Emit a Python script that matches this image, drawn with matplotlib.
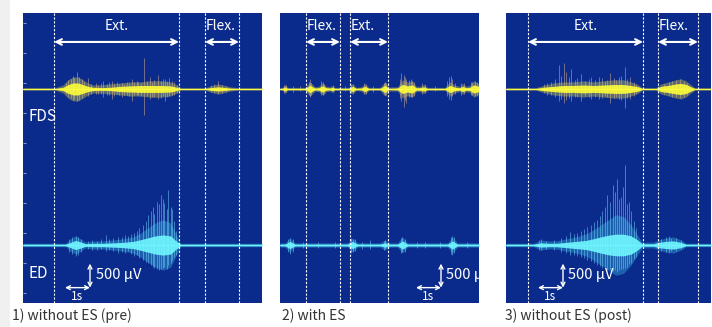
import matplotlib
matplotlib.use("Agg")
import matplotlib.pyplot as plt
from matplotlib.patches import Rectangle

plt.rcParams['font.family'] = ['Noto Sans CJK JP', 'DejaVu Sans']

# ---------------- data (time in s, amplitude in µV) ----------------
PANEL_TITLES = ["1) without ES (pre)", "2) with ES", "3) without ES (post)"]
PANEL_DURATION = [9.56, 7.96, 8.20]

PHASE_NAMES_1 = ["Ext.", "Flex."]
PHASE_START_1 = [1.24, 7.28]
PHASE_END_1 = [6.24, 8.64]
PHASE_NAMES_2 = ["Flex.", "Ext."]
PHASE_START_2 = [1.04, 2.80]
PHASE_END_2 = [2.40, 4.32]
PHASE_NAMES_3 = ["Ext.", "Flex."]
PHASE_START_3 = [0.88, 6.08]
PHASE_END_3 = [5.48, 7.68]

# FDS, panel 1
FDS1_T = [0, 1.3, 1.6, 1.8, 2.0, 2.2, 2.4, 2.6, 2.8, 3.1, 3.5, 3.9, 4.3, 4.7, 5.1, 5.5, 5.9, 6.15, 6.3,
          7.3, 7.5, 7.8, 8.0, 8.3, 8.6, 9.0, 9.56]
FDS1_CORE = [12, 12, 35, 90, 125, 125, 90, 55, 35, 28, 35, 55, 65, 72, 72, 72, 65, 35, 12,
             12, 28, 45, 35, 18, 12, 12, 12]
FDS1_HALO = [28, 28, 84, 190, 250, 250, 190, 125, 84, 84, 105, 125, 147, 147, 170, 170, 147, 84, 28,
             28, 63, 105, 84, 42, 28, 28, 28]
FDS1_SPIKE_T = [1.9, 2.15, 2.6, 2.9, 3.2, 3.55, 3.95, 4.35, 4.6, 4.84, 5.08, 5.4, 5.68, 5.85, 5.96, 7.8,
                1.7, 1.8, 2.0, 2.05, 2.25, 2.35, 2.45, 2.7, 3.0, 3.1, 3.35, 3.45, 3.65, 3.75, 3.85,
                4.05, 4.15, 4.25, 4.45, 4.55, 4.7, 4.95, 5.15, 5.25, 5.5, 5.6, 5.75, 6.05, 6.15,
                7.5, 7.65, 7.95, 8.1]
FDS1_SPIKE_UP = [200, 350, 230, 120, 170, 170, 130, 210, 150, 650, 250, 290, 210, 220, 170, 170,
                 120, 180, 260, 220, 250, 200, 150, 110, 90, 130, 110, 150, 120, 140, 100,
                 110, 150, 120, 140, 160, 130, 170, 150, 190, 160, 200, 170, 140, 90,
                 80, 100, 90, 60]
FDS1_SPIKE_DN = [180, 250, 150, 100, 170, 210, 170, 250, 120, 540, 210, 210, 250, 150, 130, 110,
                 110, 160, 230, 200, 220, 180, 130, 100, 110, 100, 130, 120, 140, 110, 120,
                 130, 120, 140, 120, 130, 150, 140, 160, 170, 180, 150, 160, 120, 80,
                 70, 90, 80, 60]

# ED, panel 1
ED1_T = [0, 1.7, 1.9, 2.1, 2.3, 2.5, 2.8, 3.2, 3.6, 4.0, 4.4, 4.7, 5.0, 5.3, 5.6, 5.9, 6.1, 6.3, 9.56]
ED1_CORE = [18, 18, 55, 95, 65, 28, 36, 36, 45, 55, 75, 110, 150, 190, 210, 190, 95, 18, 18]
ED1_HALO = [36, 36, 126, 190, 126, 63, 84, 84, 105, 126, 168, 250, 357, 462, 525, 462, 250, 36, 36]
ED1_SPIKE_T = [2.1, 3.3, 3.8, 4.2, 4.55, 4.8, 5.0, 5.2, 5.35, 5.5, 5.65, 5.8, 5.95, 6.05,
               1.85, 1.95, 2.2, 2.3, 2.6, 2.75, 2.95, 3.1, 3.45, 3.6, 3.95, 4.1, 4.3, 4.45, 4.65,
               4.9, 5.1, 5.25, 5.45, 5.6, 5.75, 5.9, 6.1]
ED1_SPIKE_UP = [190, 210, 170, 190, 300, 420, 630, 800, 900, 1050, 880, 1150, 740, 500,
                120, 160, 170, 120, 80, 100, 90, 130, 120, 150, 160, 200, 220, 260, 350,
                500, 700, 650, 850, 950, 750, 800, 300]
ED1_SPIKE_DN = [230, 125, 170, 130, 200, 310, 380, 460, 500, 500, 460, 420, 320, 250,
                140, 180, 200, 150, 80, 110, 100, 90, 110, 130, 140, 170, 180, 220, 280,
                350, 420, 480, 520, 480, 500, 380, 200]

# FDS, panel 2
FDS2_T = [0, 0.1, 0.2, 0.3, 1.0, 1.2, 1.4, 1.55, 1.7, 1.85, 2.0, 2.1, 2.2, 2.75, 2.9, 3.05, 3.25, 3.4, 3.55,
          4.0, 4.2, 4.35, 4.7, 4.9, 5.1, 5.3, 5.45, 5.6, 5.75, 5.9, 6.6, 6.8, 7.0, 7.2, 7.3, 7.45, 7.6,
          7.75, 7.96]
FDS2_CORE = [14, 14, 45, 14, 14, 75, 20, 26, 65, 26, 20, 36, 14, 14, 55, 14, 20, 55, 14,
             14, 75, 14, 20, 95, 65, 85, 26, 26, 45, 14, 14, 75, 36, 26, 55, 26, 36, 85, 55]
FDS2_HALO = [32, 32, 95, 32, 32, 150, 45, 55, 130, 55, 45, 75, 32, 32, 110, 32, 45, 110, 32,
             32, 150, 40, 45, 190, 140, 170, 55, 55, 95, 32, 32, 150, 75, 55, 110, 55, 75, 170, 110]
FDS2_SPIKE_T = [0.5, 1.2, 1.65, 2.9, 3.7, 4.2, 4.85, 4.95, 5.05, 5.25, 6.2, 6.75, 6.9, 7.7,
                0.15, 0.25, 0.8, 1.15, 1.25, 1.7, 1.75, 2.1, 2.6, 2.85, 3.35, 3.45, 4.15, 4.25,
                4.8, 5.0, 5.15, 5.3, 5.35, 5.7, 5.8, 6.7, 6.85, 7.0, 7.25, 7.35, 7.65, 7.8, 7.9]
FDS2_SPIKE_UP = [70, 210, 170, 110, 60, 150, 330, 290, 200, 210, 60, 250, 210, 150,
                 90, 80, 60, 150, 130, 140, 110, 80, 60, 100, 120, 110, 120, 130,
                 200, 250, 180, 170, 150, 120, 100, 160, 280, 120, 130, 120, 140, 160, 150]
FDS2_SPIKE_DN = [60, 170, 130, 90, 60, 120, 250, 370, 300, 170, 50, 200, 150, 130,
                 80, 70, 50, 130, 120, 120, 100, 70, 50, 90, 110, 100, 110, 120,
                 180, 230, 170, 160, 140, 110, 90, 150, 230, 110, 120, 110, 130, 150, 140]

# ED, panel 2
ED2_T = [0, 0.2, 0.4, 0.6, 2.7, 2.9, 3.1, 4.0, 4.2, 4.4, 4.7, 4.9, 5.1, 6.7, 6.9, 7.1, 7.96]
ED2_CORE = [20, 20, 75, 20, 20, 75, 20, 20, 45, 20, 20, 85, 20, 20, 85, 20, 20]
ED2_HALO = [45, 45, 147, 45, 45, 147, 45, 45, 105, 45, 45, 168, 45, 45, 168, 45, 45]
ED2_SPIKE_T = [0.4, 1.5, 2.9, 3.6, 4.2, 4.9, 5.8, 6.9,
               0.3, 0.5, 0.9, 2.2, 2.85, 3.0, 3.3, 4.15, 4.85, 5.0, 5.5, 6.4, 6.85, 6.95, 7.5]
ED2_SPIKE_UP = [150, 60, 130, 100, 110, 170, 70, 190,
                120, 130, 60, 60, 140, 120, 70, 90, 150, 130, 70, 60, 170, 160, 60]
ED2_SPIKE_DN = [190, 60, 150, 80, 90, 150, 60, 210,
                140, 150, 60, 70, 160, 130, 80, 100, 170, 140, 70, 60, 190, 170, 60]

# FDS, panel 3
FDS3_T = [0, 1.2, 1.5, 1.9, 2.3, 2.7, 3.1, 3.5, 3.9, 4.3, 4.7, 5.0, 5.3, 5.45,
          6.0, 6.2, 6.5, 6.8, 7.0, 7.2, 7.4, 7.55, 8.2]
FDS3_CORE = [12, 12, 36, 55, 72, 72, 82, 72, 82, 92, 92, 72, 45, 12,
             12, 55, 75, 105, 115, 95, 45, 12, 12]
FDS3_HALO = [28, 28, 74, 126, 147, 147, 168, 147, 168, 190, 190, 147, 84, 28,
             28, 105, 147, 190, 210, 168, 84, 28, 28]
FDS3_SPIKE_T = [1.8, 2.1, 2.3, 2.6, 3.0, 3.4, 3.7, 4.15, 4.5, 4.75, 4.95,
                1.5, 1.65, 1.95, 2.2, 2.4, 2.5, 2.75, 2.85, 3.15, 3.3, 3.55, 3.85, 3.95, 4.05,
                4.3, 4.4, 4.6, 4.85, 5.1, 5.2, 6.3, 6.5, 6.65, 6.8, 6.95, 7.1, 7.25]
FDS3_SPIKE_UP = [150, 500, 540, 420, 310, 250, 250, 330, 250, 460, 250,
                 100, 130, 200, 280, 350, 250, 180, 220, 160, 200, 180, 220, 160, 190,
                 230, 180, 280, 200, 150, 110, 110, 140, 170, 190, 200, 170, 130]
FDS3_SPIKE_DN = [120, 250, 300, 250, 250, 200, 210, 290, 200, 400, 200,
                 90, 120, 160, 200, 230, 180, 160, 170, 150, 170, 160, 180, 150, 160,
                 190, 170, 220, 180, 140, 100, 100, 130, 160, 170, 180, 160, 120]

# ED, panel 3
ED3_T = [0, 1.1, 1.4, 1.7, 2.0, 2.4, 2.8, 3.2, 3.5, 3.8, 4.1, 4.4, 4.7, 5.0, 5.25,
         5.45, 5.9, 6.1, 6.4, 6.7, 7.0, 7.2, 8.2]
ED3_CORE = [18, 18, 45, 36, 36, 55, 75, 95, 130, 170, 205, 225, 225, 190, 110,
            26, 26, 55, 75, 85, 55, 18, 18]
ED3_HALO = [36, 36, 105, 84, 84, 126, 168, 231, 315, 420, 525, 630, 590, 420, 210,
            60, 60, 105, 147, 168, 105, 36, 36]
ED3_SPIKE_T = [1.4, 2.56, 3.0, 3.4, 3.64, 3.85, 4.04, 4.28, 4.44, 4.6, 4.76, 4.9, 5.1, 6.6,
               1.3, 1.6, 1.9, 2.2, 2.4, 2.7, 2.85, 3.1, 3.25, 3.5, 3.75, 3.95, 4.15, 4.35,
               4.52, 4.68, 4.84, 5.0, 5.2, 6.2, 6.4, 6.5, 6.8, 7.0]
ED3_SPIKE_UP = [120, 270, 300, 420, 520, 700, 1040, 1250, 1370, 1000, 1660, 900, 500, 150,
                100, 90, 110, 140, 180, 220, 250, 330, 380, 480, 600, 800, 900, 1100,
                950, 1200, 850, 700, 350, 130, 160, 180, 140, 100]
ED3_SPIKE_DN = [100, 200, 250, 330, 420, 480, 520, 540, 560, 500, 480, 400, 300, 130,
                110, 90, 100, 140, 170, 200, 220, 280, 320, 380, 430, 460, 500, 520,
                530, 500, 450, 380, 250, 120, 150, 160, 130, 90]

SCALE_UV = 500
SCALE_S = 1

# ---------------- styling / layout ----------------
W, H = 712, 327
BG = '#0a2b8c'
YMAX = 6040
FDS_BASE = 4458
ED_BASE = 1208
ARROW_Y = 5437
LABEL_Y = 5770

fig = plt.figure(figsize=(W / 100, H / 100), dpi=100)
fig.patch.set_facecolor('white')
fig.add_artist(Rectangle((0, 0), 10 / W, 1, transform=fig.transFigure, color='#f0f0f0', lw=0))

panel_px = [(23, 239), (280, 199), (506, 205)]
scale_x = [2.68, 6.44, 2.28]
title_px = [12, 282, 505]

phases = [(PHASE_NAMES_1, PHASE_START_1, PHASE_END_1),
          (PHASE_NAMES_2, PHASE_START_2, PHASE_END_2),
          (PHASE_NAMES_3, PHASE_START_3, PHASE_END_3)]
fds = [(FDS1_T, FDS1_CORE, FDS1_HALO, FDS1_SPIKE_T, FDS1_SPIKE_UP, FDS1_SPIKE_DN),
       (FDS2_T, FDS2_CORE, FDS2_HALO, FDS2_SPIKE_T, FDS2_SPIKE_UP, FDS2_SPIKE_DN),
       (FDS3_T, FDS3_CORE, FDS3_HALO, FDS3_SPIKE_T, FDS3_SPIKE_UP, FDS3_SPIKE_DN)]
ed = [(ED1_T, ED1_CORE, ED1_HALO, ED1_SPIKE_T, ED1_SPIKE_UP, ED1_SPIKE_DN),
      (ED2_T, ED2_CORE, ED2_HALO, ED2_SPIKE_T, ED2_SPIKE_UP, ED2_SPIKE_DN),
      (ED3_T, ED3_CORE, ED3_HALO, ED3_SPIKE_T, ED3_SPIKE_UP, ED3_SPIKE_DN)]


def draw_trace(ax, base, data, xmax, c_line, c_halo, c_core, c_spike):
    t, core, halo, st, su, sd = data
    ax.fill_between(t, [base - h for h in halo], [base + h for h in halo],
                    color=c_halo, alpha=0.35, lw=0, zorder=2)
    ax.vlines(st, [base - d for d in sd], [base + u for u in su],
              color=c_spike, lw=0.6, alpha=0.6, zorder=2)
    ax.plot([0, xmax], [base, base], color=c_line, lw=0.8, zorder=3)
    ax.fill_between(t, [base - c for c in core], [base + c for c in core],
                    color=c_core, alpha=0.9, lw=0, zorder=4)


for i in range(3):
    x0, w = panel_px[i]
    ax = fig.add_axes([x0 / W, (H - 303) / H, w / W, 290 / H])
    ax.set_facecolor(BG)
    xmax = PANEL_DURATION[i]
    ax.set_xlim(0, xmax)
    ax.set_ylim(0, YMAX)
    ax.set_xticks([])
    for s in ax.spines.values():
        s.set_visible(False)
    if i == 0:
        ax.set_yticks([208 + 625 * k for k in range(10)])
        ax.tick_params(axis='y', direction='in', length=2, color='#8a96c8', labelleft=False, width=0.8)
    else:
        ax.set_yticks([])

    names, starts, ends = phases[i]
    for nm, a, b in zip(names, starts, ends):
        for xv in (a, b):
            ax.axvline(xv, color='white', lw=0.8, ls=(0, (2, 1.5)), zorder=5)
        ax.annotate('', xy=(a, ARROW_Y), xytext=(b, ARROW_Y),
                    arrowprops=dict(arrowstyle='<->', color='white', lw=1.5,
                                    shrinkA=0, shrinkB=0, mutation_scale=10), zorder=6)
        if b - a > 2.5:
            ax.text((a + b) / 2, LABEL_Y, nm, color='white', fontsize=10, ha='center', va='center')
        else:
            ax.text(a + 0.04, LABEL_Y, nm, color='white', fontsize=10, ha='left', va='center')

    draw_trace(ax, FDS_BASE, fds[i], xmax, '#e8e4a8', '#f0e040', '#ffff38', '#d8b090')
    draw_trace(ax, ED_BASE, ed[i], xmax, '#58d8f8', '#40c8f0', '#70f8ff', '#70d0f8')

    if i == 0:
        ax.text(0.2, 3875, 'FDS', color='white', fontsize=11, ha='left', va='center')
        ax.text(0.2, 604, 'ED', color='white', fontsize=11, ha='left', va='center')

    sx = scale_x[i]
    corner = 320
    ax.annotate('', xy=(sx, corner + SCALE_UV), xytext=(sx, corner),
                arrowprops=dict(arrowstyle='<->', color='white', lw=1.0,
                                shrinkA=0, shrinkB=0, mutation_scale=7), zorder=6)
    ax.annotate('', xy=(sx - SCALE_S, corner), xytext=(sx, corner),
                arrowprops=dict(arrowstyle='<->', color='white', lw=1.0,
                                shrinkA=0, shrinkB=0, mutation_scale=7), zorder=6)
    ax.text(sx - SCALE_S / 2, 140, '1s', color='white', fontsize=8.5, ha='center', va='center')
    ax.text(sx + 0.22, 583, '500 μV', color='white', fontsize=10.5, ha='left', va='center',
            clip_on=True)

    fig.text(title_px[i] / W, 1 - 316 / H, PANEL_TITLES[i], color='#333333', fontsize=10,
             ha='left', va='center')

fig.savefig('out.png', dpi=100, facecolor='white')
